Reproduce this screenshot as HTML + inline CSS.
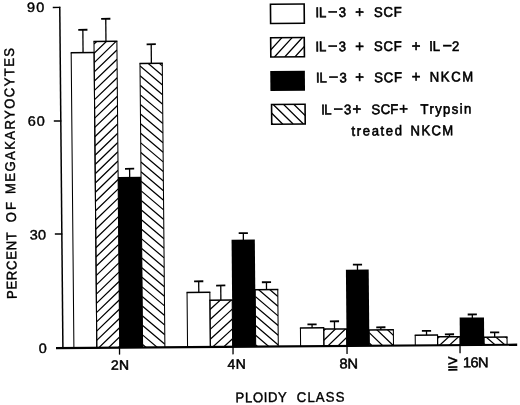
<!DOCTYPE html>
<html lang="en">
<head>
<meta charset="utf-8">
<title>Ploidy class distribution of megakaryocytes</title>
<style>
html,body{margin:0;padding:0;background:#fff;}
body{width:520px;height:405px;overflow:hidden;}
svg{display:block;}
svg text{font-family:"Liberation Sans",sans-serif;font-size:14.0px;fill:#000;stroke:#000;stroke-width:0.6px;white-space:pre;}
svg text.t{stroke-width:0.38px;}
svg text.u{stroke-width:0.5px;}
svg text.a{stroke-width:0.42px;}
</style>
</head>
<body>
<svg width="520" height="405" viewBox="0 0 520 405">
<rect width="520" height="405" fill="#fff"/>
<g transform="matrix(1 -0.0075 0.0092 1 -3.2021 0.4717)">
<line x1="62.9" y1="6.8" x2="62.9" y2="349.05" stroke="#000" stroke-width="1.5"/>
<line x1="55.9" y1="7.4" x2="63.4" y2="7.4" stroke="#000" stroke-width="1.4"/>
<line x1="55.9" y1="120.95" x2="63.4" y2="120.95" stroke="#000" stroke-width="1.4"/>
<line x1="55.9" y1="234.01" x2="63.4" y2="234.01" stroke="#000" stroke-width="1.4"/>
<line x1="56" y1="348.05" x2="517.2" y2="348.05" stroke="#000" stroke-width="2.1"/>
<line x1="119.5" y1="348.05" x2="119.5" y2="355.05" stroke="#000" stroke-width="1.3"/>
<line x1="233" y1="348.05" x2="233" y2="355.65" stroke="#000" stroke-width="1.3"/>
<line x1="347" y1="348.05" x2="347" y2="356.25" stroke="#000" stroke-width="1.3"/>
<line x1="460" y1="348.05" x2="460" y2="356.15" stroke="#000" stroke-width="1.3"/>
<path d="M73.9 348.05V52.87M96.8 348.05V52.87" fill="none" stroke="#000" stroke-width="1.05"/>
<path d="M73.38 52.87H97.33" fill="none" stroke="#000" stroke-width="1.5"/>
<line x1="85.78" y1="52.87" x2="85.78" y2="29.97" stroke="#000" stroke-width="1.3"/>
<line x1="81.18" y1="29.97" x2="90.38" y2="29.97" stroke="#000" stroke-width="1.8"/>
<clipPath id="c1"><rect x="96.8" y="41.74" width="22.9" height="306.31"/></clipPath>
<path d="M96.8 368.43L119.7 346.68M96.8 359.17L119.7 337.42M96.8 349.91L119.7 328.16M96.8 340.65L119.7 318.9M96.8 331.39L119.7 309.63M96.8 322.13L119.7 300.38M96.8 312.87L119.7 291.12M96.8 303.61L119.7 281.86M96.8 294.35L119.7 272.6M96.8 285.09L119.7 263.34M96.8 275.83L119.7 254.08M96.8 266.57L119.7 244.81M96.8 257.31L119.7 235.56M96.8 248.05L119.7 226.3M96.8 238.79L119.7 217.04M96.8 229.53L119.7 207.78M96.8 220.27L119.7 198.52M96.8 211.01L119.7 189.26M96.8 201.75L119.7 180M96.8 192.49L119.7 170.74M96.8 183.23L119.7 161.48M96.8 173.97L119.7 152.22M96.8 164.71L119.7 142.96M96.8 155.45L119.7 133.7M96.8 146.19L119.7 124.44M96.8 136.93L119.7 115.18M96.8 127.67L119.7 105.92M96.8 118.41L119.7 96.66M96.8 109.15L119.7 87.4M96.8 99.89L119.7 78.14M96.8 90.63L119.7 68.88M96.8 81.37L119.7 59.62M96.8 72.11L119.7 50.36M96.8 62.85L119.7 41.1M96.8 53.59L119.7 31.84M96.8 44.33L119.7 22.58" stroke="#000" stroke-width="1.25" fill="none" clip-path="url(#c1)"/>
<path d="M96.8 348.05V41.74M119.7 348.05V41.74" fill="none" stroke="#000" stroke-width="1.05"/>
<path d="M96.27 41.74H120.22" fill="none" stroke="#000" stroke-width="1.5"/>
<line x1="108.78" y1="41.74" x2="108.78" y2="19.15" stroke="#000" stroke-width="1.3"/>
<line x1="104.18" y1="19.15" x2="113.38" y2="19.15" stroke="#000" stroke-width="1.8"/>
<rect x="119.6" y="177.31" width="23.1" height="170.74" fill="#000"/>
<line x1="131.24" y1="177.81" x2="131.24" y2="169.27" stroke="#000" stroke-width="1.3"/>
<line x1="126.64" y1="169.27" x2="135.84" y2="169.27" stroke="#000" stroke-width="1.8"/>
<clipPath id="c2"><rect x="142.6" y="64.08" width="22.3" height="283.97"/></clipPath>
<path d="M142.6 345.05L164.9 364.23M142.6 335.45L164.9 354.63M142.6 325.85L164.9 345.03M142.6 316.25L164.9 335.43M142.6 306.65L164.9 325.83M142.6 297.05L164.9 316.23M142.6 287.45L164.9 306.63M142.6 277.85L164.9 297.03M142.6 268.25L164.9 287.43M142.6 258.65L164.9 277.83M142.6 249.05L164.9 268.23M142.6 239.45L164.9 258.63M142.6 229.85L164.9 249.03M142.6 220.25L164.9 239.43M142.6 210.65L164.9 229.83M142.6 201.05L164.9 220.23M142.6 191.45L164.9 210.63M142.6 181.85L164.9 201.03M142.6 172.25L164.9 191.43M142.6 162.65L164.9 181.83M142.6 153.05L164.9 172.23M142.6 143.45L164.9 162.63M142.6 133.85L164.9 153.03M142.6 124.25L164.9 143.43M142.6 114.65L164.9 133.83M142.6 105.05L164.9 124.23M142.6 95.45L164.9 114.63M142.6 85.85L164.9 105.03M142.6 76.25L164.9 95.43M142.6 66.65L164.9 85.83M142.6 57.05L164.9 76.23M142.6 47.45L164.9 66.63" stroke="#000" stroke-width="1.25" fill="none" clip-path="url(#c2)"/>
<path d="M142.6 348.05V64.08M164.9 348.05V64.08" fill="none" stroke="#000" stroke-width="1.05"/>
<path d="M142.07 64.08H165.43" fill="none" stroke="#000" stroke-width="1.5"/>
<line x1="153.99" y1="64.08" x2="153.99" y2="44.94" stroke="#000" stroke-width="1.3"/>
<line x1="149.39" y1="44.94" x2="158.59" y2="44.94" stroke="#000" stroke-width="1.8"/>
<path d="M187.55 348.05V293.32M210.35 348.05V293.32" fill="none" stroke="#000" stroke-width="1.05"/>
<path d="M187.03 293.32H210.88" fill="none" stroke="#000" stroke-width="1.5"/>
<line x1="199.3" y1="293.32" x2="199.3" y2="282.33" stroke="#000" stroke-width="1.3"/>
<line x1="194.7" y1="282.33" x2="203.9" y2="282.33" stroke="#000" stroke-width="1.8"/>
<clipPath id="c3"><rect x="210.35" y="301.29" width="22.3" height="46.76"/></clipPath>
<path d="M210.35 360.15L232.65 340.08M210.35 350.25L232.65 330.18M210.35 340.35L232.65 320.28M210.35 330.45L232.65 310.38M210.35 320.55L232.65 300.48M210.35 310.65L232.65 290.58M210.35 300.75L232.65 280.68" stroke="#000" stroke-width="1.25" fill="none" clip-path="url(#c3)"/>
<path d="M210.35 348.05V301.29M232.65 348.05V301.29" fill="none" stroke="#000" stroke-width="1.05"/>
<path d="M209.82 301.29H233.18" fill="none" stroke="#000" stroke-width="1.5"/>
<line x1="221.31" y1="301.29" x2="221.31" y2="286.69" stroke="#000" stroke-width="1.3"/>
<line x1="216.71" y1="286.69" x2="225.91" y2="286.69" stroke="#000" stroke-width="1.8"/>
<rect x="232.55" y="241.06" width="23.25" height="106.99" fill="#000"/>
<line x1="244.35" y1="241.56" x2="244.35" y2="234.46" stroke="#000" stroke-width="1.3"/>
<line x1="239.75" y1="234.46" x2="248.95" y2="234.46" stroke="#000" stroke-width="1.8"/>
<clipPath id="c4"><rect x="255.7" y="291.23" width="22.6" height="56.82"/></clipPath>
<path d="M255.7 346.35L278.3 366.01M255.7 336.65L278.3 356.31M255.7 326.95L278.3 346.61M255.7 317.25L278.3 336.91M255.7 307.55L278.3 327.21M255.7 297.85L278.3 317.51M255.7 288.15L278.3 307.81M255.7 278.45L278.3 298.11" stroke="#000" stroke-width="1.25" fill="none" clip-path="url(#c4)"/>
<path d="M255.7 348.05V291.23M278.3 348.05V291.23" fill="none" stroke="#000" stroke-width="1.05"/>
<path d="M255.18 291.23H278.82" fill="none" stroke="#000" stroke-width="1.5"/>
<line x1="267.04" y1="291.23" x2="267.04" y2="283.73" stroke="#000" stroke-width="1.3"/>
<line x1="262.44" y1="283.73" x2="271.64" y2="283.73" stroke="#000" stroke-width="1.8"/>
<path d="M300.6 348.05V329.77M323.9 348.05V329.77" fill="none" stroke="#000" stroke-width="1.05"/>
<path d="M300.07 329.77H324.42" fill="none" stroke="#000" stroke-width="1.5"/>
<line x1="312.25" y1="329.77" x2="312.25" y2="326.27" stroke="#000" stroke-width="1.3"/>
<line x1="307.65" y1="326.27" x2="316.85" y2="326.27" stroke="#000" stroke-width="1.8"/>
<clipPath id="c5"><rect x="323.9" y="331.04" width="22.8" height="17.01"/></clipPath>
<path d="M323.9 361.35L346.7 339.69M323.9 351.75L346.7 330.09M323.9 342.15L346.7 320.49M323.9 332.55L346.7 310.89" stroke="#000" stroke-width="1.25" fill="none" clip-path="url(#c5)"/>
<path d="M323.9 348.05V331.04M346.7 348.05V331.04" fill="none" stroke="#000" stroke-width="1.05"/>
<path d="M323.38 331.04H347.22" fill="none" stroke="#000" stroke-width="1.5"/>
<line x1="334.68" y1="331.04" x2="334.68" y2="323.34" stroke="#000" stroke-width="1.3"/>
<line x1="330.08" y1="323.34" x2="339.28" y2="323.34" stroke="#000" stroke-width="1.8"/>
<rect x="346.6" y="271.81" width="22.8" height="76.24" fill="#000"/>
<line x1="358.2" y1="272.31" x2="358.2" y2="266.82" stroke="#000" stroke-width="1.3"/>
<line x1="353.6" y1="266.82" x2="362.8" y2="266.82" stroke="#000" stroke-width="1.8"/>
<clipPath id="c6"><rect x="369.3" y="332.29" width="24.2" height="15.76"/></clipPath>
<path d="M369.3 345.35L393.5 369.07M369.3 334.95L393.5 358.67M369.3 324.55L393.5 348.27M369.3 314.15L393.5 337.87" stroke="#000" stroke-width="1.25" fill="none" clip-path="url(#c6)"/>
<path d="M369.3 348.05V332.29M393.5 348.05V332.29" fill="none" stroke="#000" stroke-width="1.05"/>
<path d="M368.77 332.29H394.02" fill="none" stroke="#000" stroke-width="1.5"/>
<line x1="381.02" y1="332.29" x2="381.02" y2="329.69" stroke="#000" stroke-width="1.3"/>
<line x1="376.42" y1="329.69" x2="385.62" y2="329.69" stroke="#000" stroke-width="1.8"/>
<path d="M415.3 348.05V337.77M437.65 348.05V337.77" fill="none" stroke="#000" stroke-width="1.05"/>
<path d="M414.77 337.77H438.17" fill="none" stroke="#000" stroke-width="1.5"/>
<line x1="426.63" y1="337.77" x2="426.63" y2="333.62" stroke="#000" stroke-width="1.3"/>
<line x1="422.03" y1="333.62" x2="431.23" y2="333.62" stroke="#000" stroke-width="1.8"/>
<clipPath id="c7"><rect x="437.65" y="339.65" width="22.35" height="8.4"/></clipPath>
<path d="M437.65 367.45L460 347.33M437.65 358.65L460 338.54M437.65 349.85L460 329.74M437.65 341.05L460 320.94" stroke="#000" stroke-width="1.25" fill="none" clip-path="url(#c7)"/>
<path d="M437.65 348.05V339.65M460 348.05V339.65" fill="none" stroke="#000" stroke-width="1.05"/>
<path d="M437.12 339.65H460.52" fill="none" stroke="#000" stroke-width="1.5"/>
<line x1="449.55" y1="339.65" x2="449.55" y2="337.2" stroke="#000" stroke-width="1.3"/>
<line x1="444.95" y1="337.2" x2="454.15" y2="337.2" stroke="#000" stroke-width="1.8"/>
<rect x="459.9" y="320.57" width="24.35" height="27.48" fill="#000"/>
<line x1="472.58" y1="321.07" x2="472.58" y2="317.52" stroke="#000" stroke-width="1.3"/>
<line x1="467.98" y1="317.52" x2="477.18" y2="317.52" stroke="#000" stroke-width="1.8"/>
<clipPath id="c8"><rect x="484.15" y="340.45" width="22.95" height="7.6"/></clipPath>
<path d="M484.15 346.95L507.1 367.15M484.15 338.45L507.1 358.65M484.15 329.95L507.1 350.15M484.15 321.45L507.1 341.65" stroke="#000" stroke-width="1.25" fill="none" clip-path="url(#c8)"/>
<path d="M484.15 348.05V340.45M507.1 348.05V340.45" fill="none" stroke="#000" stroke-width="1.05"/>
<path d="M483.62 340.45H507.62" fill="none" stroke="#000" stroke-width="1.5"/>
<line x1="494.76" y1="340.45" x2="494.76" y2="335.65" stroke="#000" stroke-width="1.3"/>
<line x1="490.16" y1="335.65" x2="499.36" y2="335.65" stroke="#000" stroke-width="1.8"/>
<rect x="273.6" y="5.83" width="33.7" height="19.2" fill="none" stroke="#000" stroke-width="1.6"/>
<clipPath id="c9"><rect x="273.49" y="39.33" width="33.6" height="19.3"/></clipPath>
<path d="M266.89 58.63L284.76 39.33M277.09 58.63L294.96 39.33M287.39 58.63L305.26 39.33M297.59 58.63L315.46 39.33M307.79 58.63L325.66 39.33" stroke="#000" stroke-width="1.3" fill="none" clip-path="url(#c9)"/>
<rect x="273.49" y="39.33" width="33.6" height="19.3" fill="none" stroke="#000" stroke-width="1.6"/>
<rect x="272.78" y="72.63" width="34.6" height="19.9" fill="#000"/>
<clipPath id="c10"><rect x="273.78" y="106.03" width="33.5" height="19.8"/></clipPath>
<path d="M254.88 106.03L274.68 125.83M265.08 106.03L284.88 125.83M275.38 106.03L295.18 125.83M285.68 106.03L305.48 125.83M295.98 106.03L315.78 125.83" stroke="#000" stroke-width="1.3" fill="none" clip-path="url(#c10)"/>
<rect x="273.78" y="106.03" width="33.5" height="19.8" fill="none" stroke="#000" stroke-width="1.6"/>
<text transform="scale(1.07 1)" class="t" style="font-size:13.6px"><tspan x="28.05" y="11.76" style="letter-spacing:1.18px">90</tspan></text>
<text transform="scale(1.07 1)" class="t" style="font-size:13.6px"><tspan x="27.86" y="125.46" style="letter-spacing:0.95px">60</tspan></text>
<text transform="scale(1.07 1)" class="t" style="font-size:13.6px"><tspan x="28.64" y="239.26" style="letter-spacing:0.31px">30</tspan></text>
<text transform="scale(1.07 1)" class="t" style="font-size:13.6px"><tspan x="36.25" y="352.92">0</tspan></text>
<text transform="scale(1.03 1)" class="u" style="font-size:13.6px"><tspan x="107.47" y="370.06" style="letter-spacing:0.23px">2N</tspan></text>
<text transform="scale(1.03 1)" class="u" style="font-size:13.6px"><tspan x="220.66" y="370.14" style="letter-spacing:0.54px">4N</tspan></text>
<text transform="scale(1.03 1)" class="u" style="font-size:14.2px"><tspan x="329.47" y="370.58" style="letter-spacing:-0.26px">8N</tspan></text>
<text transform="scale(0.7317 1)"><tspan x="610.37" y="371.97" style="font-family:'DejaVu Sans',sans-serif;font-size:19.76px;stroke-width:0.15px">≧</tspan></text>
<text transform="scale(1.03 1)" class="u" style="font-size:14.2px"><tspan x="449.3" y="370.31" style="letter-spacing:-0.55px">16N</tspan></text>
<text transform="scale(0.94 1)"><tspan x="338.84" y="19.13">I</tspan><tspan x="342.5" y="19.13">L</tspan><tspan x="352.25" y="19.73" font-size="17.5">−</tspan><tspan x="363.64" y="19.13">3</tspan> <tspan x="381.05" y="19.72" font-size="16">+</tspan> <tspan x="401.09" y="19.26" style="letter-spacing:0.85px">SCF</tspan></text>
<text transform="scale(0.94 1)"><tspan x="338.51" y="53.32">I</tspan><tspan x="342.16" y="53.32">L</tspan><tspan x="351.92" y="53.92" font-size="17.5">−</tspan><tspan x="363.31" y="53.32">3</tspan> <tspan x="380.71" y="53.92" font-size="16">+</tspan> <tspan x="400.76" y="53.46" style="letter-spacing:0.85px">SCF</tspan> <tspan x="440.82" y="54.04" font-size="16">+</tspan> <tspan x="459.67" y="53.88">I</tspan><tspan x="463.22" y="53.88">L</tspan><tspan x="473.51" y="54.48" font-size="17.5">−</tspan><tspan x="483.77" y="53.88">2</tspan></text>
<text transform="scale(0.94 1)"><tspan x="338.84" y="84.53">I</tspan><tspan x="342.49" y="84.53">L</tspan><tspan x="352.25" y="85.13" font-size="17.5">−</tspan><tspan x="363.64" y="84.53">3</tspan> <tspan x="380.62" y="84.82" font-size="16">+</tspan> <tspan x="400.67" y="84.56" style="letter-spacing:0.85px">SCF</tspan> <tspan x="440.52" y="84.74" font-size="16">+</tspan> <tspan x="459.84" y="84.48" style="letter-spacing:1.64px">NKCM</tspan></text>
<text transform="scale(0.94 1)"><tspan x="344.06" y="116.36">I</tspan><tspan x="347.29" y="116.36">L</tspan><tspan x="357.04" y="116.96" font-size="17.5">−</tspan><tspan x="368.12" y="116.36">3</tspan><tspan x="377.34" y="116.66" font-size="16">+</tspan> <tspan x="397.48" y="116.53">S</tspan><tspan x="407.3" y="116.53">C</tspan><tspan x="417.5" y="116.53">F</tspan><tspan x="427.02" y="116.83" font-size="16">+</tspan> <tspan x="449.61" y="116.6" style="letter-spacing:1.44px">Trypsin</tspan></text>
<text transform="scale(0.94 1)"><tspan x="375.99" y="137.88" style="letter-spacing:1.7px">treated</tspan> <tspan x="438.89" y="138.03" style="letter-spacing:1.35px">NKCM</tspan></text>
<text transform="scale(0.94 1)" class="a"><tspan x="250.12" y="403.6" style="letter-spacing:0.64px">PLOIDY</tspan> <tspan x="315.13" y="403.75" style="letter-spacing:1.23px">CLASS</tspan></text>
<text class="a" transform="translate(17 0) rotate(-90) scale(0.94 1)"><tspan x="-317.8" y="0.16" style="letter-spacing:0.73px">PERCENT</tspan> <tspan x="-236.04" y="0.07" style="letter-spacing:1.99px">OF</tspan> <tspan x="-205.99" y="-0.37" style="letter-spacing:1.45px">MEGAKARYOCYTES</tspan></text>
</g>
</svg>
</body>
</html>
